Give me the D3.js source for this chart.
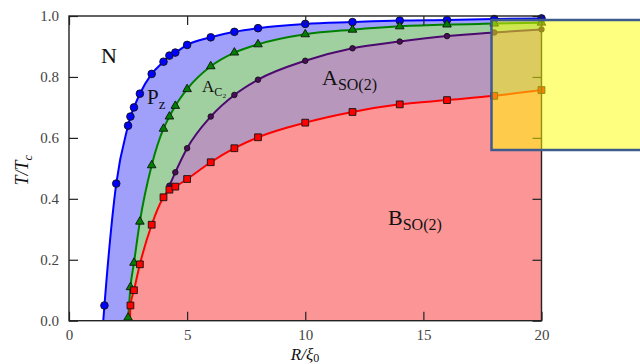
<!DOCTYPE html>
<html>
<head>
<meta charset="utf-8">
<script src="https://d3js.org/d3.v7.min.js"></script>
<style>
  body { margin: 0; background: #fff; }
  svg { display: block; }
</style>
</head>
<body>
<svg id="chart" width="640" height="364"></svg>
<script>
// phase boundaries, T/Tc vs R/xi0
var R_blue = [1.5, 2, 2.5, 2.6, 2.75, 3, 3.5, 4, 4.25, 4.5, 5, 6, 7, 8, 10, 12, 14, 16, 18, 20];
var T_blue = [0.05, 0.45, 0.64, 0.67, 0.70, 0.745, 0.81, 0.85, 0.87, 0.88, 0.905, 0.93, 0.948, 0.96, 0.974, 0.98, 0.985, 0.987, 0.99, 0.992];

var R_green = [2.5, 2.6, 2.75, 3, 3.5, 4, 4.25, 4.5, 5, 6, 7, 8, 10, 12, 14, 16, 18, 20];
var T_green = [0.01, 0.11, 0.19, 0.325, 0.51, 0.63, 0.67, 0.705, 0.76, 0.835, 0.88, 0.907, 0.94, 0.955, 0.966, 0.972, 0.975, 0.978];

var R_purple = [4.25, 4.5, 5, 6, 7, 8, 10, 12, 14, 16, 18, 20];
var T_purple = [0.443, 0.487, 0.566, 0.67, 0.741, 0.791, 0.853, 0.894, 0.916, 0.934, 0.946, 0.956];

var R_red = [2.6, 2.75, 3, 3.5, 4, 4.25, 4.5, 5, 6, 7, 8, 10, 12, 14, 16, 18, 20];
var T_red = [0.05, 0.10, 0.185, 0.315, 0.405, 0.43, 0.44, 0.465, 0.52, 0.566, 0.602, 0.65, 0.685, 0.71, 0.724, 0.738, 0.757];

// where the curves meet T = 0 (line only, no marker)
var roots = { blue: 1.45, green: 2.48, red: 2.58 };

var x_ticks = [0, 5, 10, 15, 20];
var y_ticks = [0.0, 0.2, 0.4, 0.6, 0.8, 1.0];

var MARGIN = { left: 69, right: 98.5, top: 16, bottom: 43.3 };
var W = 640, H = 364;

var svg = d3.select("#chart");

var x = d3.scaleLinear().domain([0, 20]).range([MARGIN.left, W - MARGIN.right]);
var y = d3.scaleLinear().domain([0, 1]).range([H - MARGIN.bottom, MARGIN.top]);

function pts(R, T, root){
  var p = R.map(function(r, i){ return [r, T[i]]; });
  if( root != null ) p.unshift([root, 0]);
  return p;
}

var series = [
  { name: "blue",   pts: pts(R_blue, T_blue, roots.blue),    marks: pts(R_blue, T_blue),    fill: "#a0a0fb", line: "#0000ff", marker: "circle" },
  { name: "green",  pts: pts(R_green, T_green, roots.green), marks: pts(R_green, T_green),  fill: "#a0d0a0", line: "#008000", marker: "triangle" },
  { name: "purple", pts: pts(R_purple, T_purple),            marks: pts(R_purple, T_purple), fill: "#b897bd", line: "#4b0a6e", marker: "small" },
  { name: "red",    pts: pts(R_red, T_red, roots.red),       marks: pts(R_red, T_red),      fill: "#fc9696", line: "#ff0000", marker: "square" }
];

var area = d3.area()
  .x(function(d){ return x(d[0]); })
  .y0(y(0))
  .y1(function(d){ return y(d[1]); })
  .curve(d3.curveMonotoneX);

var line = d3.line()
  .x(function(d){ return x(d[0]); })
  .y(function(d){ return y(d[1]); })
  .curve(d3.curveMonotoneX);

var plot = svg.append("g");

series.forEach(function(s){
  plot.append("path")
    .attr("d", area(s.pts))
    .attr("fill", s.fill)
    .attr("stroke", "none");
});

series.forEach(function(s){
  plot.append("path")
    .attr("d", line(s.pts))
    .attr("fill", "none")
    .attr("stroke", s.line)
    .attr("stroke-width", 2);
});

var symbols = {
  circle: d3.symbol().type(d3.symbolCircle).size(46),
  triangle: d3.symbol().type(d3.symbolTriangle).size(32),
  small: d3.symbol().type(d3.symbolCircle).size(24),
  square: d3.symbol().type(d3.symbolSquare).size(46)
};

series.forEach(function(s){
  plot.selectAll(".mk-" + s.name)
    .data(s.marks)
    .enter()
    .append("path")
    .attr("class", "mk-" + s.name)
    .attr("d", symbols[s.marker]())
    .attr("transform", function(d){ return "translate(" + x(d[0]) + "," + y(d[1]) + ")"; })
    .attr("fill", s.name == "purple" ? "#4b0a5a" : s.line)
    .attr("stroke", "#111")
    .attr("stroke-width", 0.9);
});

// axes, ticks pointing inward on all four sides
var serif = "'Liberation Serif', 'Times New Roman', serif";

function styleAxis(g, labels){
  g.select(".domain").remove();
  g.attr("font-family", serif).attr("font-size", 15);
  g.selectAll(".tick line").attr("stroke", "#222").attr("stroke-width", 1.2);
  g.selectAll(".tick text")
    .attr("fill", "#444")
    .style("font-family", serif)
    .style("font-size", "15px");
  if( !labels ) g.selectAll(".tick text").remove();
}

svg.append("g")
  .attr("transform", "translate(0," + y(0) + ")")
  .call(d3.axisBottom(x).tickValues(x_ticks).tickSize(-9).tickPadding(9).tickFormat(d3.format("d")))
  .call(styleAxis, true);

svg.append("g")
  .attr("transform", "translate(0," + y(1) + ")")
  .call(d3.axisTop(x).tickValues(x_ticks).tickSize(-9))
  .call(styleAxis, false);

svg.append("g")
  .attr("transform", "translate(" + x(0) + ",0)")
  .call(d3.axisLeft(y).tickValues(y_ticks).tickSize(-9).tickPadding(10).tickFormat(d3.format(".1f")))
  .call(styleAxis, true);

svg.append("g")
  .attr("transform", "translate(" + x(20) + ",0)")
  .call(d3.axisRight(y).tickValues(y_ticks).tickSize(-9))
  .call(styleAxis, false);

svg.append("rect")
  .attr("x", x(0)).attr("y", y(1))
  .attr("width", x(20) - x(0)).attr("height", y(0) - y(1))
  .attr("fill", "none")
  .attr("stroke", "#222")
  .attr("stroke-width", 1.4);

// region labels
function mathLabel(px, py, size, main, sub, subSize){
  var t = svg.append("text")
    .attr("x", px).attr("y", py)
    .style("font-family", serif)
    .style("font-size", size + "px")
    .attr("fill", "#111");
  t.append("tspan").text(main);
  if( sub ){
    t.append("tspan")
      .attr("dy", size * 0.22)
      .style("font-size", subSize + "px")
      .text(sub);
  }
  return t;
}

mathLabel(101, 63, 22, "N");
mathLabel(147, 104, 21, "P", "z", 15);
mathLabel(202, 92, 17, "A", "C\u2082", 12);
mathLabel(322, 85, 22, "A", "SO(2)", 16);
mathLabel(388, 225, 22, "B", "SO(2)", 16);

// axis titles
var xl = svg.append("text")
  .attr("x", 305).attr("y", 360)
  .attr("text-anchor", "middle")
  .style("font-family", serif)
  .style("font-size", "17px")
  .attr("fill", "#111");
xl.append("tspan").style("font-style", "italic").text("R/\u03BE");
xl.append("tspan").attr("dy", 2).style("font-size", "12px").text("0");

var yl = svg.append("text")
  .attr("transform", "translate(28,170) rotate(-90)")
  .attr("text-anchor", "middle")
  .style("font-family", serif)
  .style("font-size", "18px")
  .attr("fill", "#111");
yl.append("tspan").style("font-style", "italic").text("T/T");
yl.append("tspan").attr("dy", 4).style("font-size", "13px").style("font-style", "italic").text("c");

// yellow highlight box over the top right corner
svg.append("rect")
  .attr("x", 491.5).attr("y", 20)
  .attr("width", 160).attr("height", 130)
  .attr("fill", "#ffff00")
  .attr("fill-opacity", 0.5)
  .attr("stroke", "#3e5b8e")
  .attr("stroke-width", 2.5);
</script>
</body>
</html>
